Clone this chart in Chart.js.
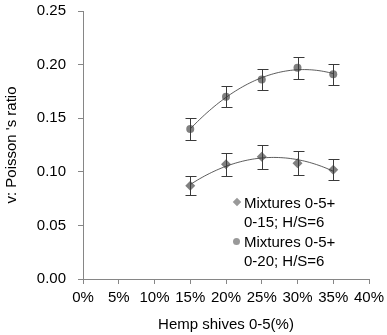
<!DOCTYPE html>
<html>
<head>
<meta charset="utf-8">
<script src="https://cdn.jsdelivr.net/npm/chart.js@4.4.0/dist/chart.umd.min.js"></script>
<style>
  html, body { margin: 0; padding: 0; background: #fff; }
  #wrap { position: relative; width: 387px; height: 335px; }
  .leg { position: absolute; left: 244px; font: 15px "Liberation Sans", Arial, sans-serif; color: #000; line-height: 19px; white-space: nowrap; }
  .mk { position: absolute; background: #999; }
  .mk.dia { width: 6px; height: 6px; transform: rotate(45deg); }
  .mk.dot { width: 7px; height: 7px; border-radius: 50%; }
</style>
</head>
<body>
<div id="wrap">
  <canvas id="chart" width="387" height="335"></canvas>
  <div class="mk dia" style="left:234px;top:199px"></div>
  <div class="leg" style="top:193px">Mixtures 0-5+<br>0-15; H/S=6</div>
  <div class="mk dot" style="left:233px;top:238px"></div>
  <div class="leg" style="top:232px">Mixtures 0-5+<br>0-20; H/S=6</div>
</div>
<script>
// ==================== DATA ====================
const hempShare = [0.15, 0.20, 0.25, 0.30, 0.35];
const mix015 = [0.087, 0.107, 0.114, 0.108, 0.102];
const mix020 = [0.140, 0.170, 0.186, 0.197, 0.191];
const err015 = [0.009, 0.011, 0.011, 0.011, 0.010];
const err020 = [0.010, 0.010, 0.010, 0.010, 0.010];
const xTicks = [0, 0.05, 0.10, 0.15, 0.20, 0.25, 0.30, 0.35, 0.40];
const yTicks = [0, 0.05, 0.10, 0.15, 0.20, 0.25];

const FONT = '"Liberation Sans", Arial, sans-serif';
const AXIS = "#868686";
const MARK = "#808080";

// least squares, order 2 (same as the spreadsheet trendline)
function quadFit(xs, ys) {
  let n = xs.length, s1 = 0, s2 = 0, s3 = 0, s4 = 0, t0 = 0, t1 = 0, t2 = 0;
  for (let i = 0; i < n; i++) {
    const x = xs[i], y = ys[i];
    s1 += x; s2 += x * x; s3 += x * x * x; s4 += x * x * x * x;
    t0 += y; t1 += x * y; t2 += x * x * y;
  }
  const det = (m) => m[0][0] * (m[1][1] * m[2][2] - m[1][2] * m[2][1])
    - m[0][1] * (m[1][0] * m[2][2] - m[1][2] * m[2][0])
    + m[0][2] * (m[1][0] * m[2][1] - m[1][1] * m[2][0]);
  const A = [[n, s1, s2], [s1, s2, s3], [s2, s3, s4]];
  const B = [t0, t1, t2];
  const D = det(A);
  const coef = [0, 1, 2].map(c => det(A.map((row, r) => row.map((v, k) => k === c ? B[r] : v))) / D);
  return x => coef[0] + coef[1] * x + coef[2] * x * x;
}

const extras = {
  id: "extras",
  afterDatasetsDraw(chart) {
    const { ctx, scales: { x, y } } = chart;
    ctx.save();
    // trendlines
    [mix015, mix020].forEach(vals => {
      const f = quadFit(hempShare, vals);
      const x0 = hempShare[0], x1 = hempShare[hempShare.length - 1];
      ctx.beginPath();
      for (let i = 0; i <= 60; i++) {
        const xv = x0 + (x1 - x0) * i / 60;
        const px = x.getPixelForValue(xv), py = y.getPixelForValue(f(xv));
        i ? ctx.lineTo(px, py) : ctx.moveTo(px, py);
      }
      ctx.strokeStyle = "#333";
      ctx.lineWidth = 0.8;
      ctx.stroke();
    });
    // error bars
    ctx.strokeStyle = "#3a3a3a";
    ctx.lineWidth = 1;
    [[mix015, err015], [mix020, err020]].forEach(([vals, errs]) => {
      vals.forEach((v, i) => {
        const px = Math.round(x.getPixelForValue(hempShare[i])) + 0.5;
        const top = Math.round(y.getPixelForValue(v + errs[i])) + 0.5;
        const bot = Math.round(y.getPixelForValue(v - errs[i])) + 0.5;
        ctx.beginPath();
        ctx.moveTo(px, top); ctx.lineTo(px, bot);
        ctx.moveTo(px - 5, top); ctx.lineTo(px + 6, top);
        ctx.moveTo(px - 5, bot); ctx.lineTo(px + 6, bot);
        ctx.stroke();
      });
    });
    ctx.restore();
  }
};

new Chart(document.getElementById("chart"), {
  type: "scatter",
  data: {
    datasets: [
      {
        label: "Mixtures 0-5+ 0-15; H/S=6",
        data: hempShare.map((h, i) => ({ x: h, y: mix015[i] })),
        pointStyle: "rectRot",
        pointRadius: 5,
        backgroundColor: MARK,
        borderColor: MARK,
        borderWidth: 0
      },
      {
        label: "Mixtures 0-5+ 0-20; H/S=6",
        data: hempShare.map((h, i) => ({ x: h, y: mix020[i] })),
        pointStyle: "circle",
        pointRadius: 4,
        backgroundColor: MARK,
        borderColor: MARK,
        borderWidth: 0
      }
    ]
  },
  options: {
    responsive: false,
    animation: false,
    layout: { padding: { top: 11, right: 18, left: 0, bottom: 0 } },
    plugins: { legend: { display: false }, tooltip: { enabled: false } },
    scales: {
      x: {
        type: "linear", min: 0, max: 0.4,
        afterBuildTicks: s => { s.ticks = xTicks.map(v => ({ value: v })); },
        afterFit: s => { s.height = 56; s.paddingLeft = 0; s.paddingRight = 0; },
        grid: { drawOnChartArea: false, drawTicks: true, tickLength: 5, color: AXIS },
        border: { color: AXIS },
        ticks: {
          autoSkip: false, maxRotation: 0, padding: 5, color: "#000",
          font: { family: FONT, size: 15 },
          callback: v => Math.round(v * 100) + "%"
        },
        title: { display: true, text: "Hemp shives 0-5(%)", color: "#000", font: { family: FONT, size: 15 }, padding: { top: 2, bottom: 1 } }
      },
      y: {
        min: 0, max: 0.25,
        afterBuildTicks: s => { s.ticks = yTicks.map(v => ({ value: v })); },
        afterFit: s => { s.width = 83; s.paddingTop = 0; s.paddingBottom = 0; },
        grid: { drawOnChartArea: false, drawTicks: true, tickLength: 5, color: AXIS },
        border: { color: AXIS },
        ticks: {
          padding: 12, color: "#000",
          font: { family: FONT, size: 15 },
          callback: v => v.toFixed(2)
        },
        title: { display: true, text: "v: Poisson 's ratio", color: "#000", font: { family: FONT, size: 15 }, padding: { top: 3, bottom: 4 } }
      }
    }
  },
  plugins: [extras]
});
</script>
</body>
</html>
